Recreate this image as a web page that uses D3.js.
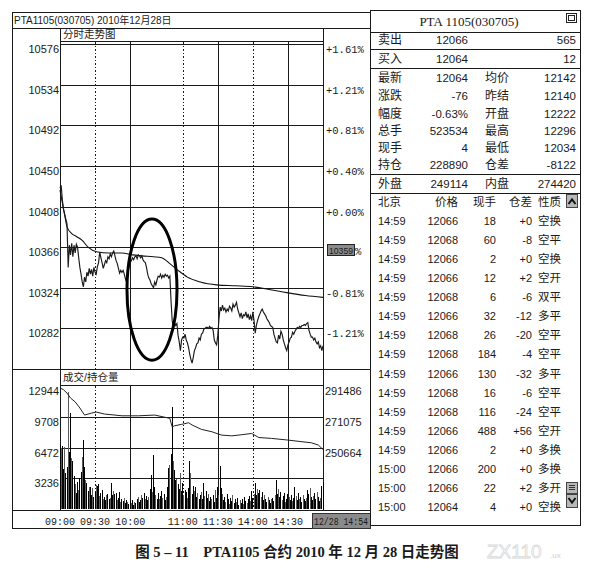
<!DOCTYPE html>
<html><head><meta charset="utf-8">
<script src="https://cdn.jsdelivr.net/npm/d3@7/dist/d3.min.js"></script>
<style>body{margin:0;background:#fff}svg{display:block}</style>
</head><body>
<svg id="c" width="589" height="571"></svg>
<script>
// ---------- DATA ----------
const title = "PTA1105(030705) 2010年12月28日";
const priceTicks = [10576,10534,10492,10450,10408,10366,10324,10282];
const pctLabels = ["+1.61%","+1.21%","+0.81%","+0.40%","+0.00%","","-0.81%","-1.21%"];
const cursorPrice = "10359";
const volTicks = [12944,9708,6472,3236];
const oiTicks = [291486,271075,250664];
const timeLabels = ["09:00","09:30","10:00","11:00","11:30","14:00","14:30"];
const timeIdx = [0,30,60,105,135,165,195];
const gridIdx = [30,60,105,135,165,195];
const gridDotted = [true,false,true,false,true,false];
const cursorTime = "12/28 14:54";

const price = [
10427,10430,10415,10405,10400,10395,10390,10345,10368,10358,
10370,10356,10368,10360,10369,10366,10355,10345,10338,10330,
10325,10335,10330,10340,10336,10344,10338,10343,10336,10345,
10340,10338,10346,10350,10361,10355,10350,10344,10348,10352,
10350,10356,10354,10359,10356,10360,10362,10357,10352,10349,
10344,10339,10342,10340,10342,10338,10333,10330,10340,10346,
10350,10352,10355,10353,10356,10357,10354,10358,10357,10355,
10357,10353,10351,10350,10345,10338,10334,10332,10328,10326,
10324,10330,10327,10332,10336,10335,10338,10334,10337,10335,
10338,10336,10337,10334,10336,10310,10290,10283,10288,10285,
10287,10275,10268,10259,10270,10273,10272,10276,10270,10267,
10262,10255,10250,10246,10252,10259,10262,10266,10267,10272,
10270,10276,10277,10281,10282,10283,10283,10282,10284,10282,
10283,10280,10270,10267,10265,10275,10292,10304,10300,10306,
10301,10303,10299,10302,10300,10305,10303,10300,10307,10304,
10306,10309,10302,10298,10294,10298,10292,10296,10295,10299,
10293,10297,10291,10295,10290,10299,10290,10277,10285,10290,
10294,10297,10300,10302,10299,10297,10295,10292,10290,10288,
10285,10284,10283,10276,10272,10268,10267,10275,10271,10279,
10276,10270,10266,10262,10259,10265,10268,10272,10273,10278,
10276,10279,10281,10283,10282,10284,10283,10285,10285,10286,
10285,10287,10288,10280,10276,10273,10273,10270,10272,10268,
10266,10268,10262,10264,10259,10264];

const avgIdx = [0,2,4,6,10,14,19,24,32,42,53,62,70,80,87,94,101,109,120,134,150,165,180,194,210,225];
const avgVal = [10425,10412,10399,10387,10380,10377,10373,10366,10361,10360,10360,10358,10357,10356,10355,10349,10342,10335,10330,10327,10326,10325,10322,10319,10316,10314];

const volume = [
6700,6400,6600,4200,6500,3800,4400,12300,6000,10100,
5400,5100,3500,2600,1700,2800,2000,3300,3900,5500,
7300,4400,3000,2700,1900,2300,2300,1500,2200,1300,
1800,2500,2400,2600,1400,1700,2000,1100,1300,900,
1500,1600,1000,1200,2700,1500,1900,1600,1700,900,
1200,1800,700,1100,800,1200,600,900,700,500,
800,600,900,400,700,600,1000,1300,700,900,
1500,1200,1700,1100,1400,900,1300,2100,3600,1800,
5700,2300,1500,1100,1700,1000,1400,1900,1200,1600,
900,1300,2300,4300,4600,5800,10700,5100,4100,3000,
3200,2600,2100,3800,1900,2700,1500,2000,1800,1200,
2200,5100,3800,1600,2400,1900,2300,1300,1700,1100,
1500,1800,1000,2700,1400,1900,1200,1600,800,1300,
1000,1500,700,2000,1200,2300,1500,4500,2200,1600,
900,1300,700,1600,1000,500,1200,800,1500,600,
1000,700,1200,400,900,600,1100,500,1300,800,
600,1000,1400,800,1900,1200,1600,2700,1500,2100,
1700,2000,1300,1800,900,1500,1100,700,1300,900,
600,1000,1200,800,1500,3000,1600,2100,1300,1800,
900,1400,1700,700,1100,1600,1300,900,1500,800,
1200,2300,1400,900,1700,1100,1300,700,1500,1000,
800,1200,2000,1600,2200,1300,900,1400,1700,1100,
1800,1300,800,1200,2400,2800];

const oiIdx = [0,3,6,9,13,17,21,27,31,38,53,67,81,90,94,95,96,98,104,110,113,121,130,138,147,155,164,170,181,195,207,215,221,225];
const oiVal = [290200,289000,286800,283500,280900,276900,272200,273500,274200,272900,271700,271700,272200,270700,270000,267000,264400,265100,266000,267100,265600,262700,261100,258900,258400,259100,260000,257300,256700,255600,254500,253800,252300,249400];

// annotation ellipse (in minute index / price units)
const ring = {t:78.7, p:10322, dt:21.4, dp:73};

const panelTitle = "PTA 1105(030705)";
const bidAsk = [["卖出","12066","565"],["买入","12064","12"]];
const quoteRows = [
 ["最新","12064","均价","12142"],
 ["涨跌","-76","昨结","12140"],
 ["幅度","-0.63%","开盘","12222"],
 ["总手","523534","最高","12296"],
 ["现手","4","最低","12034"],
 ["持仓","228890","仓差","-8122"]];
const outerRow = ["外盘","249114","内盘","274420"];
const tradeHeader = ["北京","价格","现手","仓差","性质"];
const tTime = ["14:59","14:59","14:59","14:59","14:59","14:59","14:59","14:59","14:59","14:59","14:59","14:59","14:59","15:00","15:00","15:00"];
const tPrice = ["12066","12068","12066","12066","12068","12066","12068","12068","12066","12068","12068","12066","12066","12066","12066","12064"];
const tVol = ["18","60","2","12","6","32","26","184","130","16","116","488","2","200","22","4"];
const tOi = ["+0","-8","+0","+2","-6","-12","-20","-4","-32","-6","-24","+56","+0","+0","+2","+0"];
const tType = ["空换","空平","空换","空开","双平","多平","空平","空平","多平","空平","空平","空开","多换","多换","多开","空换"];
const caption = "图 5 – 11    PTA1105 合约 2010 年 12 月 28 日走势图";

// ---------- DRAW ----------
const svg = d3.select("#c");
const SANS = "'Liberation Sans', Arial, sans-serif";
const MONO = "'Liberation Mono', 'DejaVu Sans Mono', monospace";
const CJK = "'Liberation Sans','Noto Sans CJK SC', sans-serif";
const INK = "#1a1a1a";

const X = d3.scaleLinear().domain([0,225]).range([60,323]);
const YP = d3.scaleLinear().domain([10240,10576]).range([369,44]);
const YV = d3.scaleLinear().domain([0,12944]).range([509,386]);
const YO = d3.scaleLinear().domain([209842,291486]).range([509,386]);

function ln(x1,y1,x2,y2,w,dash,col){
  const l = svg.append("line").attr("x1",x1).attr("y1",y1).attr("x2",x2).attr("y2",y2)
    .attr("stroke",col||INK).attr("stroke-width",w||1).attr("shape-rendering","crispEdges");
  if(dash) l.attr("stroke-dasharray",dash);
  return l;
}
function tx(x,y,s,size,fam,anchor,weight,col){
  return svg.append("text").attr("x",x).attr("y",y).text(s)
    .attr("font-size",size).attr("font-family",fam).attr("text-anchor",anchor||"start")
    .attr("font-weight",weight||"normal").attr("fill",col||INK);
}

// left panel frame
svg.append("rect").attr("x",12.5).attr("y",12.5).attr("width",357.5).attr("height",515.5)
  .attr("fill","none").attr("stroke",INK).attr("shape-rendering","crispEdges");
ln(12,28.5,370,28.5);
ln(60.5,28,60.5,510); ln(323.5,28,323.5,510);
ln(60,41.5,323,41.5);
ln(12,369.5,370,369.5);
ln(60,385.5,323,385.5);
ln(12,510.5,370,510.5);
tx(14,24,title,10,CJK);
tx(63,38,"分时走势图",10.5,CJK);
tx(63,381,"成交/持仓量",10.5,CJK);

// price grid
priceTicks.forEach((p,i)=>{
  const y = Math.round(YP(p))+0.5;
  ln(60,y,323,y);
  tx(59,y+8,String(p),11,SANS,"end");
  if(pctLabels[i]) tx(326,y+8,pctLabels[i],10.5,MONO);
});
// cursor price box
{
  const y = Math.round(YP(10366));
  svg.append("rect").attr("x",327.5).attr("y",y-2.5).attr("width",27).attr("height",11)
    .attr("fill","#8a8a8a").attr("stroke","#222").attr("shape-rendering","crispEdges");
  tx(329,y+6.5,cursorPrice,9.5,SANS,"start").attr("textLength",24).attr("lengthAdjust","spacingAndGlyphs");
  tx(355,y+8,"%",10.5,MONO);
}
// vertical grid
gridIdx.forEach((t,i)=>{
  const x = Math.round(X(t))+0.5;
  ln(x,42,x,369,1,gridDotted[i]?"1.5,2":null);
  ln(x,386,x,509,1,gridDotted[i]?"1.5,2":null);
});
// volume grid
volTicks.forEach((v,i)=>{
  const y = Math.round(YV(v))+0.5;
  if(i>0) ln(60,y,323,y);
  tx(59,y+8.5,String(v),11,SANS,"end");
});
oiTicks.forEach(v=>{
  const y = Math.round(YO(v))+0.5;
  tx(325,y+8.5,String(v),11,SANS);
});

// average line
svg.append("path").datum(avgIdx.map((t,i)=>[t,avgVal[i]]))
  .attr("d",d3.line().x(d=>X(d[0])).y(d=>YP(d[1])).curve(d3.curveMonotoneX))
  .attr("fill","none").attr("stroke","#111").attr("stroke-width",1.1);
// price line
svg.append("path").datum(price)
  .attr("d",d3.line().x((d,i)=>X(i)).y(d=>YP(d)))
  .attr("fill","none").attr("stroke","#1a1a1a").attr("stroke-width",1.15);

// volume bars
svg.append("g").attr("shape-rendering","crispEdges").selectAll("rect").data(volume).join("rect")
  .attr("x",(d,i)=>X(i)-0.5).attr("width",1)
  .attr("y",d=>YV(d)).attr("height",d=>YV(0)-YV(d))
  .attr("fill",(d,i)=> i%3===1 ? "#5a5a5a" : "#000");
// open interest line
svg.append("path").datum(oiIdx.map((t,i)=>[t,oiVal[i]]))
  .attr("d",d3.line().x(d=>X(d[0])).y(d=>YO(d[1])))
  .attr("fill","none").attr("stroke","#222").attr("stroke-width",1);

// annotation ellipse
svg.append("ellipse").attr("cx",X(ring.t)).attr("cy",YP(ring.p))
  .attr("rx",X(ring.t+ring.dt)-X(ring.t)).attr("ry",YP(ring.p-ring.dp)-YP(ring.p))
  .attr("fill","none").attr("stroke","#000").attr("stroke-width",3);

// time axis
timeLabels.forEach((s,i)=> tx(X(timeIdx[i]),525,s,10,MONO,"middle"));
svg.append("rect").attr("x",312).attr("y",513).attr("width",58).attr("height",15)
  .attr("fill","#8a8a8a").attr("stroke","#333").attr("shape-rendering","crispEdges");
tx(314,524.5,cursorTime,10,MONO,"start").attr("textLength",54).attr("lengthAdjust","spacingAndGlyphs");

// right panel
svg.append("rect").attr("x",370.5).attr("y",10.5).attr("width",209.5).attr("height",515)
  .attr("fill","none").attr("stroke",INK).attr("shape-rendering","crispEdges");
[32,49,68,174,193].forEach(y=>ln(370,y+0.5,580,y+0.5));
tx(469,26,panelTitle,13,"'Liberation Serif', 'Times New Roman', serif","middle");
svg.append("rect").attr("x",566.5).attr("y",13.5).attr("width",10).attr("height",9)
  .attr("fill","#fff").attr("stroke","#222").attr("shape-rendering","crispEdges");
svg.append("rect").attr("x",568.5).attr("y",15.5).attr("width",6).attr("height",5)
  .attr("fill","none").attr("stroke","#222").attr("stroke-width",1.5).attr("shape-rendering","crispEdges");

const rowY = [44,63];
bidAsk.forEach((r,i)=>{
  tx(378,rowY[i],r[0],12,CJK);
  tx(468,rowY[i],r[1],11.5,SANS,"end");
  tx(576,rowY[i],r[2],11.5,SANS,"end");
});
const qY = [82,100,118,135,152,169];
quoteRows.forEach((r,i)=>{
  tx(378,qY[i],r[0],12,CJK);
  tx(468,qY[i],r[1],11.5,SANS,"end");
  tx(485,qY[i],r[2],12,CJK);
  tx(576,qY[i],r[3],11.5,SANS,"end");
});
tx(378,188,outerRow[0],12,CJK);
tx(468,188,outerRow[1],11.5,SANS,"end");
tx(485,188,outerRow[2],12,CJK);
tx(576,188,outerRow[3],11.5,SANS,"end");

// trade list
const colX = [378,458,496,532,538];
tx(colX[0],206,tradeHeader[0],11.5,CJK);
tx(colX[1],206,tradeHeader[1],11.5,CJK,"end");
tx(colX[2],206,tradeHeader[2],11.5,CJK,"end");
tx(colX[3],206,tradeHeader[3],11.5,CJK,"end");
tx(colX[4],206,tradeHeader[4],11.5,CJK);
tTime.forEach((t,i)=>{
  const y = 225 + i*19.07;
  tx(colX[0],y,t,11,SANS);
  tx(colX[1],y,tPrice[i],11,SANS,"end");
  tx(colX[2],y,tVol[i],11,SANS,"end");
  tx(colX[3],y,tOi[i],11,SANS,"end");
  tx(colX[4],y,tType[i],11.5,CJK);
});
// scrollbar buttons
function btn(y,h){
  svg.append("rect").attr("x",566.5).attr("y",y+0.5).attr("width",11).attr("height",h)
    .attr("fill","#b8b8b8").attr("stroke","#444").attr("shape-rendering","crispEdges");
}
btn(194,13);
svg.append("path").attr("d","M568.5,204 L572,199.5 L575.5,204").attr("fill","none").attr("stroke","#111").attr("stroke-width",2);
btn(482,11);
[485.5,487.5,489.5].forEach(y=>ln(569,y,575,y,1,null,"#333"));
btn(494,13);
svg.append("path").attr("d","M568.5,498 L572,502.5 L575.5,498").attr("fill","none").attr("stroke","#111").attr("stroke-width",2);

// caption
tx(297,557,caption,14.5,"'Liberation Serif','Noto Sans CJK SC', serif","middle","bold").style("white-space","pre");
// watermark
tx(487,558,"ZX110",19,SANS,"start","normal","none").attr("stroke","#d8d8d8").attr("stroke-width",0.8);
tx(550,558,".ux",8,SANS,"start","normal","#d0d0d0");
</script></body></html>
